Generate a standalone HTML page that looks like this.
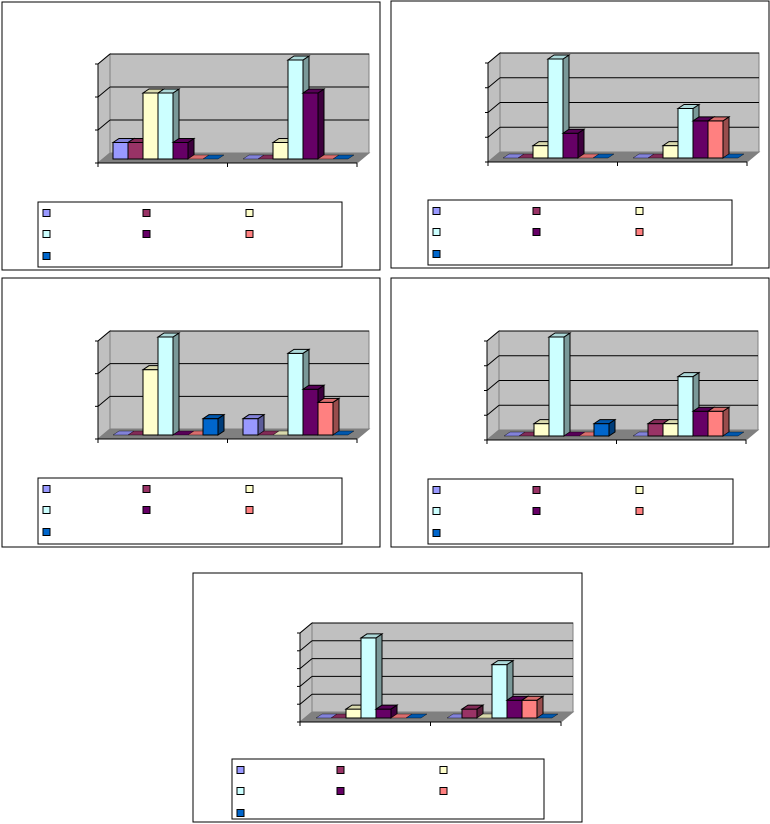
<!DOCTYPE html>
<html><head><meta charset="utf-8"><style>
html,body{margin:0;padding:0;background:#fff;}
svg{display:block;}
</style></head><body>
<svg id="s" width="770" height="824" xmlns="http://www.w3.org/2000/svg"></svg>
<script>
var cols=["#9999FF","#993366","#FFFFCC","#CCFFFF","#660066","#FF8080","#0066CC"];
function shade(c,f){var r=parseInt(c.substr(1,2),16),g=parseInt(c.substr(3,2),16),b=parseInt(c.substr(5,2),16);
return "rgb("+Math.round(r*f)+","+Math.round(g*f)+","+Math.round(b*f)+")";}
var charts=[
{f:[2,2,380,270],ax:98,ay:163,ar:357,at:64,n:3,g:[113,243],v:[[.5,.5,2,2,.5,0,0],[0,0,.5,3,2,0,0]],L:[38,202,342,267]},
{f:[391,1,769,268],ax:488,ay:162,ar:747,at:63,n:4,g:[503,633],v:[[0,0,.5,4,1,0,0],[0,0,.5,2,1.5,1.5,0]],L:[428,200,732,265]},
{f:[2,278,380,547],ax:98,ay:439,ar:357,at:341,n:3,g:[113,243],v:[[0,0,2,3,0,0,.5],[.5,0,0,2.5,1.4,1,0]],L:[38,478,342,544]},
{f:[391,278,769,547],ax:487,ay:440,ar:746,at:341,n:4,g:[504,633],v:[[0,0,.5,4,0,0,.5],[0,.5,.5,2.4,1,1,0]],L:[428,479,733,544]},
{f:[193,573,582,822],ax:300,ay:722,ar:561,at:633,n:5,g:[316,447],v:[[0,0,.5,4.5,.5,0,0],[0,.5,0,3,1,1,0]],L:[232,759,544,819]}
];
var o="";
var dx=12,dy=10;
charts.forEach(function(c){
 var f=c.f;
 o+='<rect x="'+f[0]+'" y="'+f[1]+'" width="'+(f[2]-f[0])+'" height="'+(f[3]-f[1])+'" fill="#fff" stroke="#000" stroke-width="1"/>';
 var ax=c.ax,ay=c.ay,ar=c.ar,at=c.at;
 // side wall
 o+='<polygon points="'+ax+','+at+' '+(ax+dx)+','+(at-dy)+' '+(ax+dx)+','+(ay-dy)+' '+ax+','+ay+'" fill="#C0C0C0" stroke="#808080"/>';
 // back wall
 o+='<rect x="'+(ax+dx)+'" y="'+(at-dy)+'" width="'+(ar-ax)+'" height="'+(ay-at)+'" fill="#C0C0C0" stroke="#808080"/>';
 var u=(ay-at)/c.n;
 for(var i=1;i<c.n;i++){var y=at-dy+i*u;o+='<line x1="'+(ax+dx)+'" y1="'+y+'" x2="'+(ar+dx)+'" y2="'+y+'" stroke="#000"/>';
  o+='<line x1="'+ax+'" y1="'+(at+i*u)+'" x2="'+(ax+dx)+'" y2="'+y+'" stroke="#000"/>';}
 o+='<line x1="'+(ax+dx)+'" y1="'+(at-dy)+'" x2="'+(ar+dx)+'" y2="'+(at-dy)+'" stroke="#000"/>';
 o+='<line x1="'+ax+'" y1="'+at+'" x2="'+(ax+dx)+'" y2="'+(at-dy)+'" stroke="#000"/>';
 // floor
 o+='<polygon points="'+ax+','+ay+' '+(ax+dx)+','+(ay-dy)+' '+(ar+dx)+','+(ay-dy)+' '+ar+','+ay+'" fill="#808080" stroke="#808080"/>';
 // axes
 o+='<line x1="'+ax+'" y1="'+at+'" x2="'+ax+'" y2="'+ay+'" stroke="#000"/>';
 o+='<line x1="'+ax+'" y1="'+ay+'" x2="'+ar+'" y2="'+ay+'" stroke="#000"/>';
 for(var i=0;i<=c.n;i++){var y=at+i*u;o+='<line x1="'+(ax-3)+'" y1="'+y+'" x2="'+ax+'" y2="'+y+'" stroke="#000"/>';}
 var mid=(ax+ar)/2;[ax,mid,ar].forEach(function(x){o+='<line x1="'+x+'" y1="'+ay+'" x2="'+x+'" y2="'+(ay+4)+'" stroke="#000"/>';});
 // bars
 var bb=ay-4,w=15,bd=6,bh=4;
 c.g.forEach(function(gx,gi){
  c.v[gi].forEach(function(v,k){
   var x=gx+k*w,h=v*u,col=cols[k],top=bb-h;
   if(h>0){
    o+='<polygon points="'+(x+w)+','+top+' '+(x+w+bd)+','+(top-bh)+' '+(x+w+bd)+','+(bb-bh)+' '+(x+w)+','+bb+'" fill="'+shade(col,.6)+'" stroke="#000" stroke-width="1"/>';
    o+='<rect x="'+x+'" y="'+top+'" width="'+w+'" height="'+h+'" fill="'+col+'" stroke="#000" stroke-width="1"/>';
   }
   o+='<polygon points="'+x+','+top+' '+(x+bd)+','+(top-bh)+' '+(x+w+bd)+','+(top-bh)+' '+(x+w)+','+top+'" fill="'+shade(col,.85)+'" stroke="#000" stroke-width="'+(h>0?1:0.4)+'"/>';
  });
 });
 // legend
 var L=c.L;
 o+='<rect x="'+L[0]+'" y="'+L[1]+'" width="'+(L[2]-L[0])+'" height="'+(L[3]-L[1])+'" fill="#fff" stroke="#000"/>';
 var cx=[5,105,208],ry=[11,32,54];
 for(var k=0;k<7;k++){var r=Math.floor(k/3),cc=k%3;
  o+='<rect x="'+(L[0]+cx[cc])+'" y="'+(L[1]+ry[r]-3.5)+'" width="7" height="7" fill="'+cols[k]+'" stroke="#000"/>';}
});
document.getElementById("s").innerHTML=o;
</script>
</body></html>
